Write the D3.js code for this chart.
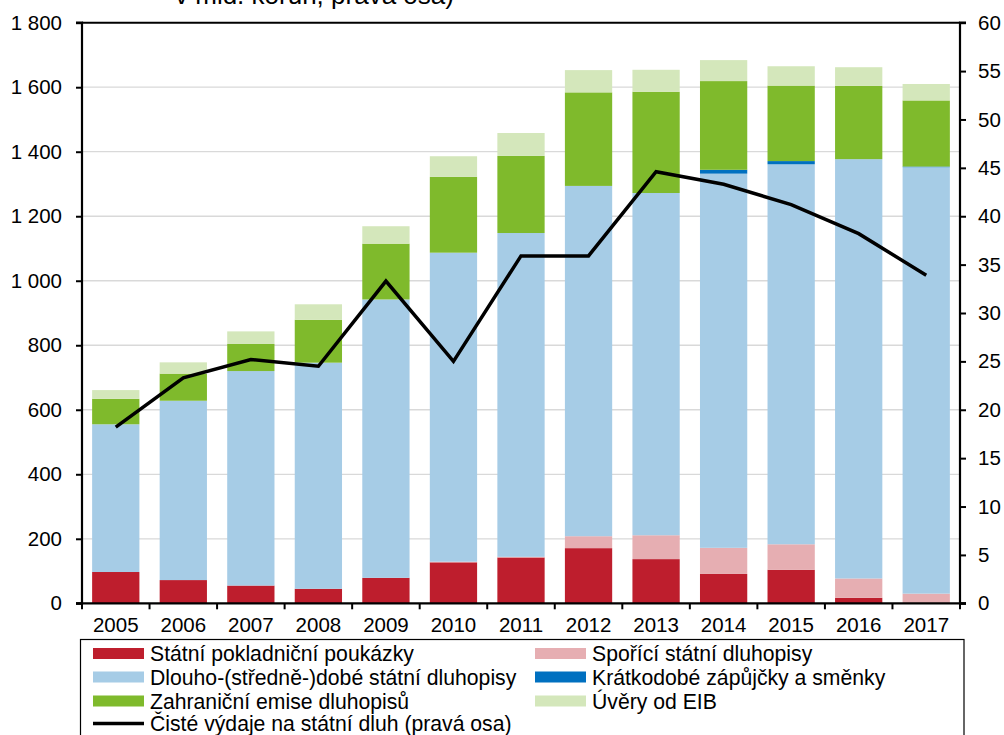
<!DOCTYPE html>
<html><head><meta charset="utf-8">
<script src="https://cdn.jsdelivr.net/npm/d3@7"></script>
<style>
html,body{margin:0;padding:0;background:#fff;}
svg{display:block;font-family:"Liberation Sans",Arial,sans-serif;}
</style></head>
<body><svg id="c" width="1004" height="735"></svg>
<script>
const years = ["2005","2006","2007","2008","2009","2010","2011","2012","2013","2014","2015","2016","2017"];
const statniPokladnicni = [97, 72, 55, 45, 79, 127, 142, 171, 137, 91, 104, 17, 0];
const sporici = [0, 0, 0, 0, 0, 2, 2, 37, 74, 81, 79, 60, 30];
const dlouhodobe = [458, 556, 665, 701, 863, 958, 1004, 1086, 1061, 1160, 1178, 1300, 1322];
const kratkodobe = [0, 0, 0, 0, 0, 0, 0, 0, 0, 12, 10, 0, 2];
const zahranicni = [79, 84, 84, 133, 173, 235, 239, 290, 314, 275, 234, 227, 205];
const uveryEIB = [27, 35, 39, 48, 54, 64, 71, 69, 68, 65, 60, 58, 51];
const cisteVydaje = [18.2, 23.3, 25.2, 24.5, 33.3, 25.0, 35.9, 35.9, 44.6, 43.3, 41.2, 38.2, 33.9];
const leftTicks = [0, 200, 400, 600, 800, 1000, 1200, 1400, 1600, 1800];
const rightTicks = [0, 5, 10, 15, 20, 25, 30, 35, 40, 45, 50, 55, 60];
const seriesNames = ["Státní pokladniční poukázky","Spořící státní dluhopisy","Dlouho-(středně-)dobé státní dluhopisy","Krátkodobé zápůjčky a směnky","Zahraniční emise dluhopisů","Úvěry od EIB"];
const lineName = "Čisté výdaje na státní dluh (pravá osa)";
const colors = ["#BE1E2D","#E6AEB2","#A6CCE6","#0070C0","#7FBA2C","#D4E7BB"];

const seriesArrays = [statniPokladnicni, sporici, dlouhodobe, kratkodobe, zahranicni, uveryEIB];
const table = years.map((y,i)=>{const o={year:y}; seriesArrays.forEach((a,k)=>o["s"+k]=a[i]); return o;});
const keys = seriesArrays.map((a,k)=>"s"+k);

const svg = d3.select("#c");
const L=82, R=960, T=22.7, B=603.3;
const x = d3.scaleBand().domain(years).range([L,R]).paddingInner(0.3).paddingOuter(0.15);
const y = d3.scaleLinear().domain([0,1800]).range([B,T]);
const y2 = d3.scaleLinear().domain([0,60]).range([B,T]);

// title (cut off at top, as in the original)
svg.append("text").attr("x",175).attr("y",4).attr("font-size",26).attr("fill","#000").text("v mld. korun, pravá osa)");

// gridlines
svg.append("g").selectAll("line").data(leftTicks.filter(t=>t>0&&t<1800)).join("line")
  .attr("x1",L).attr("x2",R).attr("y1",d=>y(d)).attr("y2",d=>y(d))
  .attr("stroke","#D9D9D9").attr("stroke-width",1.3);

// bars
const stack = d3.stack().keys(keys)(table);
svg.append("g").selectAll("g").data(stack).join("g").attr("fill",(d,i)=>colors[i])
  .selectAll("rect").data(d=>d).join("rect")
  .attr("x",d=>x(d.data.year)).attr("width",x.bandwidth())
  .attr("y",d=>y(d[1])).attr("height",d=>Math.max(0,y(d[0])-y(d[1])));

// line
const line = d3.line().x((d,i)=>x(years[i])+x.bandwidth()/2).y(d=>y2(d));
svg.append("path").datum(cisteVydaje).attr("d",line).attr("fill","none")
  .attr("stroke","#000").attr("stroke-width",3.5).attr("stroke-linejoin","miter");

// axes
const gl = svg.append("g").attr("transform",`translate(${L},0)`)
  .call(d3.axisLeft(y).tickValues(leftTicks).tickSize(6).tickPadding(14)
    .tickFormat(d=>d3.format(",")(d).replace(/,/g," ")));
const gr = svg.append("g").attr("transform",`translate(${R},0)`)
  .call(d3.axisRight(y2).tickValues(rightTicks).tickSize(6).tickPadding(12));
const gb = svg.append("g").attr("transform",`translate(0,${B})`)
  .call(d3.axisBottom(x).tickSize(0).tickPadding(14));
[gl,gr,gb].forEach(g=>{
  g.selectAll("text").attr("font-size",20.5).attr("fill","#000").attr("font-family","Liberation Sans, Arial, sans-serif");
  g.selectAll("line").attr("stroke","#000").attr("stroke-width",2);
  g.select(".domain").attr("stroke","#000").attr("stroke-width",2.2);
});
gl.select(".domain").attr("d",`M-6,${T}H0V${B}H-6`);
gr.select(".domain").attr("d",`M6,${T}H0V${B}H6`);
gb.select(".domain").attr("d",`M${L-6},0H${R+6}`);
// band boundary ticks
gb.append("g").selectAll("line").data(d3.range(years.length+1)).join("line")
  .attr("x1",i=>L+i*x.step()).attr("x2",i=>L+i*x.step()).attr("y1",0).attr("y2",6)
  .attr("stroke","#000").attr("stroke-width",2);
// top frame
svg.append("line").attr("x1",L).attr("x2",R).attr("y1",T).attr("y2",T).attr("stroke","#000").attr("stroke-width",2);

// legend
const lg = svg.append("g");
lg.append("rect").attr("x",80.5).attr("y",639.5).attr("width",883.5).attr("height",120)
  .attr("fill","#fff").attr("stroke","#000").attr("stroke-width",1.2);
const legendItems = [
  {n:seriesNames[0], c:colors[0], col:0, row:0},
  {n:seriesNames[1], c:colors[1], col:1, row:0},
  {n:seriesNames[2], c:colors[2], col:0, row:1},
  {n:seriesNames[3], c:colors[3], col:1, row:1},
  {n:seriesNames[4], c:colors[4], col:0, row:2},
  {n:seriesNames[5], c:colors[5], col:1, row:2}
];
const colX=[93,535], rowY=[653.5,677,701,724.5];
legendItems.forEach(it=>{
  lg.append("rect").attr("x",colX[it.col]).attr("y",rowY[it.row]-5.5).attr("width",51).attr("height",11).attr("fill",it.c);
  lg.append("text").attr("x",colX[it.col]+57).attr("y",rowY[it.row]+7.5).attr("font-size",21.2).attr("fill","#000").text(it.n);
});
lg.append("line").attr("x1",93).attr("x2",144).attr("y1",rowY[3]-1).attr("y2",rowY[3]-1).attr("stroke","#000").attr("stroke-width",3.5);
lg.append("text").attr("x",150).attr("y",rowY[3]+6.5).attr("font-size",21.2).attr("fill","#000").text(lineName);
</script></body></html>
